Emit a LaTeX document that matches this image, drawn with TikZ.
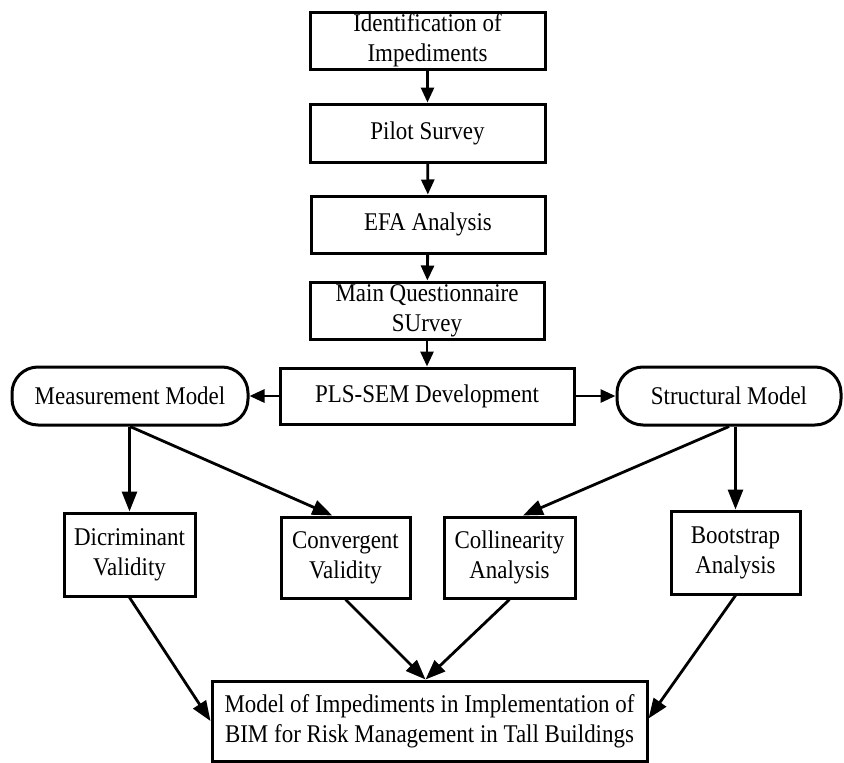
\documentclass[tikz,border=0pt]{standalone}
\usepackage{fontspec}
\setmainfont[FakeStretch=0.9]{Liberation Serif}
\usetikzlibrary{arrows.meta,calc}
\begin{document}
\begin{tikzpicture}[x=1pt,y=-1pt,
  box/.style={draw=black,line width=3pt,inner sep=0pt,align=center,
    font=\fontsize{25.5}{30}\selectfont,fill=white},
  pill/.style={box,rounded corners=26pt},
  arr/.style={line width=2.8pt,-{Triangle[length=15pt,width=13pt]}},
  larr/.style={line width=2.8pt,-{Triangle[length=20pt,width=15pt]}}]
\useasboundingbox (0,0) rectangle (844,763);
\node[box,minimum width=235pt,minimum height=57pt] (n1) at (427.5,40.5) {Identification of\\Impediments};
\node[box,minimum width=235pt,minimum height=58pt] (n2) at (427.5,133) {Pilot Survey};
\node[box,minimum width=234pt,minimum height=57pt] (n3) at (428,224.5) {EFA Analysis};
\node[box,minimum width=234pt,minimum height=57pt] (n4) at (427,310.5) {Main Questionnaire\\SUrvey};
\node[box,minimum width=294pt,minimum height=56pt] (pls) at (427,396) {PLS-SEM Development};
\node[pill,minimum width=236pt,minimum height=58pt] (meas) at (130,396) {Measurement Model};
\node[pill,minimum width=224pt,minimum height=58pt] (struct) at (729,396) {Structural Model};
\node[box,minimum width=131pt,minimum height=83pt] (dic) at (129.5,554.5) {Dicriminant\\Validity};
\node[box,minimum width=129pt,minimum height=81pt] (conv) at (345.5,557.5) {Convergent\\Validity};
\node[box,minimum width=131pt,minimum height=81pt] (coll) at (509.5,557.5) {Collinearity\\Analysis};
\node[box,minimum width=129pt,minimum height=83pt] (boot) at (735.5,552.5) {Bootstrap\\Analysis};
\node[box,minimum width=435pt,minimum height=80pt] (fin) at (429.5,721) {Model of Impediments in Implementation of\\BIM for Risk Management in Tall Buildings};

\draw[arr] (n1) -- (n2);
\draw[arr] (n2) -- (n3);
\draw[arr] (n3) -- (n4);
\draw[arr] (n4) -- (n4 |- pls.north);
\draw[arr] (pls) -- (meas);
\draw[arr] (pls) -- (struct);

\draw[larr] (meas.south -| dic.north) -- (dic.north);
\draw[larr] (meas.south) -- ($(conv.north west)!0.4!(conv.north east)$);
\draw[larr] (struct.south) -- ($(coll.north west)!0.6!(coll.north east)$);
\draw[larr] (struct.south -| boot.north) -- (boot.north);

\draw[larr] (dic.south) -- ($(fin.north west)!0.5!(fin.south west)$);
\draw[larr] (conv.south) -- ($(fin.north)+(-4,0)$);
\draw[larr] (coll.south) -- ($(fin.north)+(-4,0)$);
\draw[larr] (boot.south) -- ($(fin.north east)!0.47!(fin.south east)$);
\end{tikzpicture}
\end{document}
